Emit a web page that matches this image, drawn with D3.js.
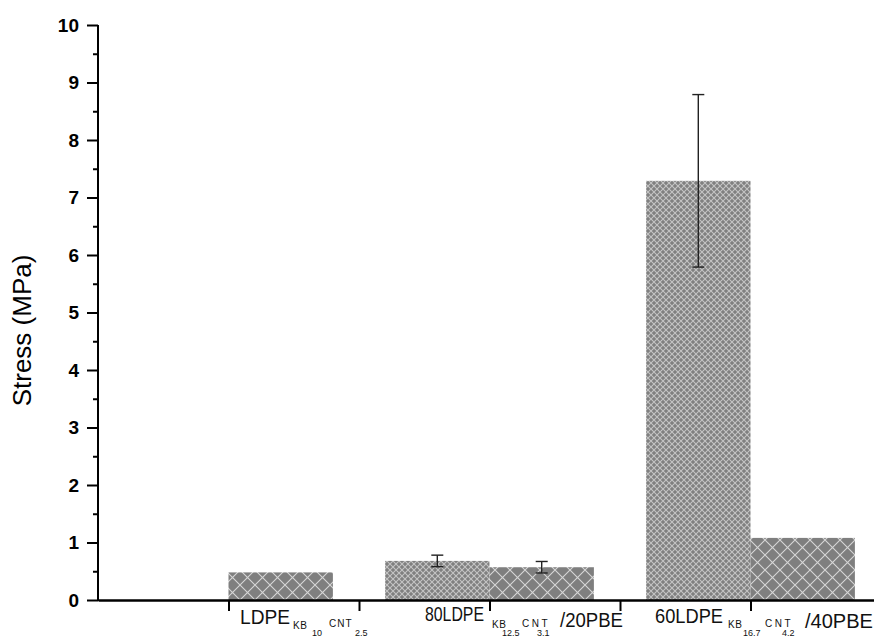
<!DOCTYPE html>
<html>
<head>
<meta charset="utf-8">
<script src="https://cdn.jsdelivr.net/npm/d3@7"></script>
<style>
  html, body { margin: 0; padding: 0; background: #fff; }
  svg { display: block; font-family: "Liberation Sans", Arial, sans-serif; }
</style>
</head>
<body>
<svg id="chart" width="874" height="638"></svg>
<script>
// Sample groups (rich-text label parts: [text, level] where 0 = normal, 1 = subscript, 2 = sub-subscript)
const categoryParts = [
  [["LDPE", 0], ["KB", 1], ["10", 2], ["CNT", 1], ["2.5", 2]],
  [["80LDPE", 0], ["KB", 1], ["12.5", 2], ["CNT", 1], ["3.1", 2], ["/20PBE", 0]],
  [["60LDPE", 0], ["KB", 1], ["16.7", 2], ["CNT", 1], ["4.2", 2], ["/40PBE", 0]]
];
const groupPositions = [1, 2, 3];

// Series A (fine cross-hatch) and series B (coarse cross-hatch); null = no bar
const stressA = [null, 0.68, 7.29];
const errorA  = [null, 0.10, 1.50];
const stressB = [0.48, 0.57, 1.08];
const errorB  = [null, 0.10, null];

const yTicks = [0, 1, 2, 3, 4, 5, 6, 7, 8, 9, 10];
const yMinorTicks = [0.5, 1.5, 2.5, 3.5, 4.5, 5.5, 6.5, 7.5, 8.5, 9.5];
const xTicks = [1, 1.5, 2, 2.5, 3, 3.5];
const yTitle = "Stress (MPa)";

const svg = d3.select("#chart");
const plotLeft = 98, plotTop = 25, plotBottom = 600;

const x = d3.scaleLinear().domain([0.5, 3.5]).range([plotLeft, plotLeft + 3 * 261]);
const y = d3.scaleLinear().domain([0, 10]).range([plotBottom, plotTop]);
const barW = 0.4;

// Hatch patterns
const defs = svg.append("defs");
function hatch(id, size, bg, line, w) {
  const p = defs.append("pattern")
    .attr("id", id).attr("patternUnits", "userSpaceOnUse")
    .attr("width", size).attr("height", size);
  p.append("rect").attr("width", size).attr("height", size).attr("fill", bg);
  p.append("path")
    .attr("d", `M0,0L${size},${size}M${size},0L0,${size}`)
    .attr("stroke", line).attr("stroke-width", w).attr("fill", "none");
}
hatch("hatchFine", 6, "#808080", "#c4c4c4", 1.1);
hatch("hatchCoarse", 15, "#7f7f7f", "#d6d6d6", 1.1);

// Bars
function drawSeries(vals, errs, offset, fill) {
  const data = groupPositions.map((g, i) => ({ g, v: vals[i], e: errs[i] }))
    .filter(d => d.v != null);
  svg.append("g").selectAll("rect").data(data).join("rect")
    .attr("x", d => x(d.g + offset))
    .attr("y", d => y(d.v))
    .attr("width", d => x(d.g + offset + barW) - x(d.g + offset))
    .attr("height", d => y(0) - y(d.v))
    .attr("fill", fill);
  const eb = svg.append("g").attr("stroke", "#222").attr("stroke-width", 1.4);
  data.filter(d => d.e != null).forEach(d => {
    const cx = x(d.g + offset + barW / 2);
    eb.append("line").attr("x1", cx).attr("x2", cx).attr("y1", y(d.v + d.e)).attr("y2", y(d.v - d.e));
    [d.v + d.e, d.v - d.e].forEach(t => {
      eb.append("line").attr("x1", cx - 6).attr("x2", cx + 6).attr("y1", y(t)).attr("y2", y(t));
    });
  });
}
drawSeries(stressA, errorA, -barW, "url(#hatchFine)");
drawSeries(stressB, errorB, 0, "url(#hatchCoarse)");

// Y axis: major and minor ticks
const yAxis = svg.append("g").attr("transform", `translate(${plotLeft},0)`)
  .call(d3.axisLeft(y).tickValues(yTicks).tickSize(11).tickSizeOuter(0).tickPadding(8).tickFormat(d3.format("d")));
yAxis.select(".domain").attr("stroke-width", 2).attr("d", `M0,${plotTop}V${plotBottom + 1}`);
yAxis.selectAll(".tick line").attr("stroke-width", 2);
yAxis.selectAll(".tick text").attr("font-size", 19).attr("font-weight", "bold")
  .attr("font-family", "Liberation Sans, Arial, sans-serif").attr("fill", "#000");
svg.append("g").attr("transform", `translate(${plotLeft},0)`)
  .call(d3.axisLeft(y).tickValues(yMinorTicks).tickSize(5).tickSizeOuter(0).tickFormat(""))
  .call(g => g.select(".domain").remove())
  .selectAll(".tick line").attr("stroke-width", 2);

// X axis
const xAxis = svg.append("g").attr("transform", `translate(0,${plotBottom})`)
  .call(d3.axisBottom(x).tickValues(xTicks).tickSize(11).tickSizeOuter(0).tickFormat(""));
xAxis.select(".domain").attr("stroke-width", 2.4);
xAxis.selectAll(".tick line").attr("stroke-width", 2);

// Y title
svg.append("text")
  .attr("transform", `translate(31,${(plotTop + plotBottom) / 2 + 18}) rotate(-90)`)
  .attr("text-anchor", "middle")
  .attr("font-size", 26)
  .attr("fill", "#000")
  .text(yTitle);

// Category labels: per-segment offset from group centre and baseline; main parts get a fitted width
const labelLayout = [
  [[11.5, 624, 50], [64.5, 629], [83.5, 636], [100.5, 627], [126.5, 636]],
  [[-64.5, 621, 59], [2.5, 628], [12.5, 636], [32.5, 627], [47.5, 636], [70.5, 627, 63]],
  [[-95.5, 623, 68], [-22.5, 628], [-7.5, 636], [14.5, 627], [31.5, 636], [54.5, 628, 68]]
];
const labels = svg.append("g").attr("fill", "#111");
categoryParts.forEach((parts, i) => {
  const cx = x(groupPositions[i]);
  parts.forEach(([t, lvl], j) => {
    const [dx, by, w] = labelLayout[i][j];
    const el = labels.append("text")
      .attr("x", cx + dx).attr("y", by)
      .attr("font-size", lvl === 0 ? 20 : lvl === 1 ? 10 : 9)
      .text(t);
    if (lvl === 0) el.attr("textLength", w).attr("lengthAdjust", "spacingAndGlyphs");
    if (lvl === 1) el.attr("letter-spacing", t === "CNT" ? (i === 0 ? 1 : 2.5) : 0.5);
  });
});
</script>
</body>
</html>
